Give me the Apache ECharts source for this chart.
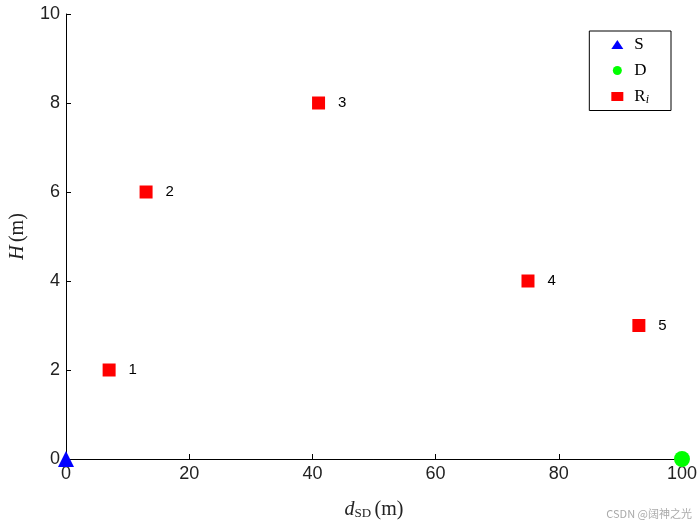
<!DOCTYPE html>
<html><head><meta charset="utf-8">
<script src="https://cdn.jsdelivr.net/npm/echarts@6/dist/echarts.min.js"></script>
<style>html,body{margin:0;padding:0;background:#fff}#c{width:700px;height:525px}</style>
</head><body><div id="c"></div>
<script>
var srcPt = [[0, 0]];
var dstPt = [[100, 0]];
var relayX = [7, 13, 41, 75, 93];
var relayY = [2, 6, 8, 4, 3];
var relayLabels = ['1', '2', '3', '4', '5'];

var relays = relayX.map(function (x, i) { return { value: [x, relayY[i]], name: relayLabels[i] }; });
var chart = echarts.init(document.getElementById('c'));
var axisCommon = {
    axisLine: { lineStyle: { color: '#000', width: 1 } },
    axisTick: { inside: true, length: 5, lineStyle: { color: '#000' } },
    axisLabel: { color: '#222', fontSize: 18, fontFamily: 'Liberation Sans', margin: 6 },
    splitLine: { show: false }
};
chart.setOption({
    animation: false,
    grid: { left: 66, right: 18, top: 14, bottom: 65, containLabel: false },
    xAxis: Object.assign({ type: 'value', min: 0, max: 100, interval: 20,
        name: '{i|d}{s|SD} {n|(m)}', nameLocation: 'middle', nameGap: 40,
        nameTextStyle: { rich: {
            i: { fontStyle: 'italic', fontSize: 20, fontFamily: 'Liberation Serif', color: '#222' },
            s: { fontSize: 13, fontFamily: 'Liberation Serif', color: '#222', verticalAlign: 'bottom', padding: [8, 0, 0, 0] },
            n: { fontSize: 20, fontFamily: 'Liberation Serif', color: '#222' } } }
    }, axisCommon),
    yAxis: Object.assign({ type: 'value', min: 0, max: 10, interval: 2,
        name: '{i|H} {n|(m)}', nameLocation: 'middle', nameGap: 38, nameRotate: 90,
        nameTextStyle: { rich: {
            i: { fontStyle: 'italic', fontSize: 20, fontFamily: 'Liberation Serif', color: '#222' },
            n: { fontSize: 20, fontFamily: 'Liberation Serif', color: '#222' } } }
    }, axisCommon),
    legend: {
        right: 29, top: 31, orient: 'vertical', itemGap: 9,
        borderColor: '#000', borderWidth: 1, borderRadius: 0, backgroundColor: '#fff',
        padding: [5, 22, 5, 22], itemWidth: 12, itemHeight: 9,
        data: [
            { name: 'S', icon: 'triangle' },
            { name: 'D', icon: 'circle' },
            { name: 'R', icon: 'rect' }
        ],
        formatter: function (n) { return n === 'R' ? 'R{i|i}' : n; },
        textStyle: { fontFamily: 'Liberation Serif', fontSize: 17, color: '#000', padding: [0, 0, 0, 6],
            rich: { i: { fontStyle: 'italic', fontSize: 12, fontFamily: 'Liberation Serif', verticalAlign: 'bottom', padding: [6, 0, 0, 0] } } }
    },
    series: [
        { name: 'S', type: 'scatter', data: srcPt, symbol: 'triangle', symbolSize: 16, itemStyle: { color: '#0000ff', opacity: 1 }, clip: false },
        { name: 'D', type: 'scatter', data: dstPt, symbol: 'circle', symbolSize: 16, itemStyle: { color: '#00ff00', opacity: 1 }, clip: false },
        { name: 'R', type: 'scatter', data: relays, symbol: 'rect', symbolSize: 13, itemStyle: { color: '#ff0000', opacity: 1 },
          label: { show: true, position: 'right', distance: 13, formatter: '{b}', color: '#000', fontSize: 15, fontFamily: 'Liberation Sans' } }
    ],
    graphic: [{ type: 'text', right: 8, bottom: 6, style: { text: 'CSDN @阔神之光', fill: '#aaa', font: '11px "Noto Sans CJK SC"' } }]
});
</script></body></html>
